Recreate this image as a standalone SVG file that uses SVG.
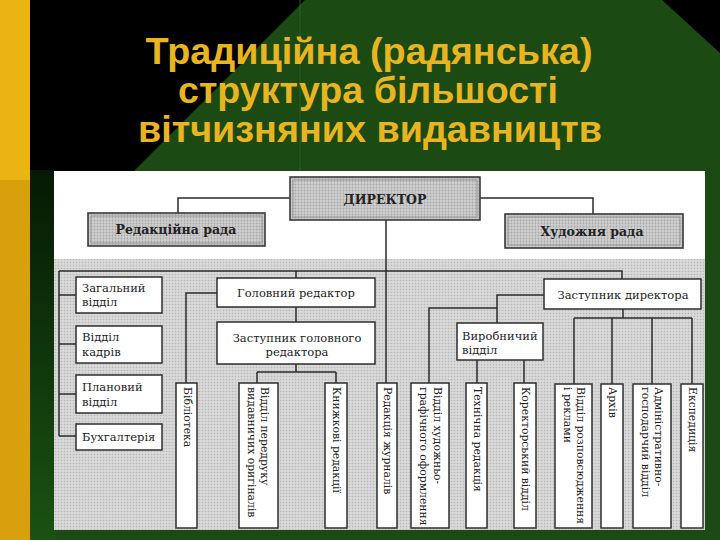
<svg xmlns="http://www.w3.org/2000/svg" width="720" height="540" viewBox="0 0 720 540">
  <defs>
    <pattern id="dots" width="3" height="3" patternUnits="userSpaceOnUse">
      <rect width="3" height="3" fill="#d8d8d8"/>
      <circle cx="1.5" cy="1.5" r="0.8" fill="#b9b9b9"/>
    </pattern>
    <pattern id="dots2" width="3" height="3" patternUnits="userSpaceOnUse">
      <rect width="3" height="3" fill="#cfcfcf"/>
      <circle cx="1.5" cy="1.5" r="0.9" fill="#a8a8a8"/>
    </pattern>
    <linearGradient id="strip" x1="0" y1="0" x2="0" y2="1">
      <stop offset="0" stop-color="#051a04"/>
      <stop offset="1" stop-color="#1a5212"/>
    </linearGradient>
  </defs>
  <style>
    .title { font-family: "Liberation Sans", Arial, sans-serif; font-weight: bold; font-size: 36px; fill: #e8b520; text-anchor: middle; }
    .conn { stroke: #2b2b2b; stroke-width: 1.5; fill: none; }
    .box { fill: #ffffff; stroke: #2e2e2e; stroke-width: 1.5; }
    .topbox { fill: url(#dots2); stroke: #3a3a3a; stroke-width: 1.6; }
    .inner { fill: none; stroke: #8a8a8a; stroke-width: 0.8; }
    .lbl { font-family: "DejaVu Serif", "Liberation Serif", serif; font-size: 11.5px; fill: #222; }
    .c { text-anchor: middle; }
    .b { font-weight: bold; font-size: 12.5px; }
    .vt { font-family: "DejaVu Serif", "Liberation Serif", serif; font-size: 10.8px; fill: #222; }
  </style>

  <!-- background -->
  <rect x="0" y="0" width="720" height="540" fill="#1b4b13"/>
  <polygon points="30,0 305,0 30,275" fill="#000000"/>
  <rect x="30" y="170" width="26" height="370" fill="url(#strip)"/>
  <polygon points="662,0 720,0 720,53" fill="#000000"/>
  <line x1="300" y1="0" x2="300" y2="170" stroke="#2d5e26" stroke-width="1"/>
  <rect x="0" y="0" width="30" height="180" fill="#eab414"/>
  <rect x="0" y="180" width="30" height="360" fill="#d8a00c"/>

  <!-- title -->
  <g id="title">
    <text class="title" x="369" y="64" textLength="447" lengthAdjust="spacingAndGlyphs">Традиційна (радянська)</text>
    <text class="title" x="368" y="103" textLength="380" lengthAdjust="spacingAndGlyphs">структура більшості</text>
    <text class="title" x="370" y="142" textLength="464" lengthAdjust="spacingAndGlyphs">вітчизняних видавництв</text>
  </g>

  <!-- chart panel -->
  <rect x="54" y="171" width="651" height="359" fill="#ffffff"/>
  <rect x="54" y="259" width="651" height="271" fill="url(#dots)"/>

  <!-- connectors -->
  <g id="connectors" class="conn">
    <path d="M290,198 H178 V213"/>
    <path d="M480,198 H593 V214"/>
    <path d="M386,220 V383"/>
    <path d="M59,271 H622 V279"/>
    <path d="M59,271 V436"/>
    <path d="M59,295 H76 M59,344 H76 M59,394 H76 M59,436 H76"/>
    <path d="M296,271 V278 M296,307 V322"/>
    <path d="M217,293 H186 V383"/>
    <path d="M296,364 V372 M257,372 H336 M257,372 V383 M336,372 V383"/>
    <path d="M544,295 H497 V323 M497,308 H429 V383"/>
    <path d="M477,360 V383 M524,360 V383"/>
    <path d="M623,309 V318 M574,318 H692 M574,318 V384 M612,318 V384 M652,318 V384 M692,318 V384"/>
  </g>

  <!-- top level -->
  <g id="director">
    <rect class="topbox" x="290" y="177" width="190" height="43"/>
    <rect class="inner" x="293" y="180" width="184" height="37"/>
    <text class="lbl b c" x="385" y="204" font-size="13">ДИРЕКТОР</text>
  </g>
  <g id="redrada">
    <rect class="topbox" x="88" y="213" width="177" height="33"/>
    <rect class="inner" x="91" y="216" width="171" height="27"/>
    <text class="lbl b c" x="176" y="234">Редакційна рада</text>
  </g>
  <g id="hudrada">
    <rect class="topbox" x="505" y="214" width="178" height="34"/>
    <rect class="inner" x="508" y="217" width="172" height="28"/>
    <text class="lbl b c" x="592" y="236">Художня рада</text>
  </g>

  <!-- left column -->
  <g id="zagalnyi">
    <rect class="box" x="76" y="277" width="86" height="36"/>
    <text class="lbl" x="82" y="292">Загальний</text>
    <text class="lbl" x="82" y="306">відділ</text>
  </g>
  <g id="kadry">
    <rect class="box" x="76" y="326" width="86" height="37"/>
    <text class="lbl" x="82" y="341">Відділ</text>
    <text class="lbl" x="82" y="356">кадрів</text>
  </g>
  <g id="planovyi">
    <rect class="box" x="76" y="375" width="86" height="38"/>
    <text class="lbl" x="82" y="391">Плановий</text>
    <text class="lbl" x="82" y="406">відділ</text>
  </g>
  <g id="buhgalteria">
    <rect class="box" x="76" y="424" width="86" height="26"/>
    <text class="lbl" x="82" y="441">Бухгалтерія</text>
  </g>

  <!-- middle -->
  <g id="golred">
    <rect class="box" x="217" y="278" width="158" height="29"/>
    <text class="lbl c" x="296" y="297">Головний редактор</text>
  </g>
  <g id="zastgolred">
    <rect class="box" x="217" y="322" width="158" height="42"/>
    <text class="lbl c" x="297" y="342">Заступник головного</text>
    <text class="lbl c" x="297" y="356">редактора</text>
  </g>
  <g id="vyrobnychyi">
    <rect class="box" x="457" y="323" width="86" height="37"/>
    <text class="lbl" x="462" y="340">Виробничий</text>
    <text class="lbl" x="462" y="354">відділ</text>
  </g>
  <g id="zastdyr">
    <rect class="box" x="544" y="279" width="157" height="30"/>
    <text class="lbl c" x="623" y="299">Заступник директора</text>
  </g>

  <!-- vertical boxes -->
  <g id="biblioteka">
    <rect class="box" x="176" y="383" width="21" height="145"/>
    <text class="vt" transform="translate(186.5,387) rotate(90)" y="3">Бібліотека</text>
  </g>
  <g id="peredruk">
    <rect class="box" x="239" y="383" width="39" height="145"/>
    <text class="vt" transform="translate(264,387) rotate(90)" y="3">Відділ передруку</text>
    <text class="vt" transform="translate(251,387) rotate(90)" y="3">видавничих оригіналів</text>
  </g>
  <g id="knyzhkovi">
    <rect class="box" x="325" y="383" width="22" height="145"/>
    <text class="vt" transform="translate(336,387) rotate(90)" y="3">Книжкові редакції</text>
  </g>
  <g id="zhurnaly">
    <rect class="box" x="377" y="383" width="20" height="145"/>
    <text class="vt" transform="translate(387,387) rotate(90)" y="3">Редакція журналів</text>
  </g>
  <g id="hudgraf">
    <rect class="box" x="411" y="383" width="38" height="145"/>
    <text class="vt" transform="translate(436.5,387) rotate(90)" y="3">Відділ художньо-</text>
    <text class="vt" transform="translate(423,387) rotate(90)" y="3">графічного оформлення</text>
  </g>
  <g id="tehred">
    <rect class="box" x="466" y="383" width="21" height="145"/>
    <text class="vt" transform="translate(476.5,387) rotate(90)" y="3">Технічна редакція</text>
  </g>
  <g id="korektor">
    <rect class="box" x="514" y="383" width="22" height="145"/>
    <text class="vt" transform="translate(525,387) rotate(90)" y="3">Коректорський відділ</text>
  </g>
  <g id="rozpovs">
    <rect class="box" x="555" y="384" width="37" height="144"/>
    <text class="vt" transform="translate(580,387) rotate(90)" y="3">Відділ розповсюдження</text>
    <text class="vt" transform="translate(567,387) rotate(90)" y="3">і реклами</text>
  </g>
  <g id="arhiv">
    <rect class="box" x="601" y="384" width="22" height="144"/>
    <text class="vt" transform="translate(612,387) rotate(90)" y="3">Архів</text>
  </g>
  <g id="admin">
    <rect class="box" x="633" y="384" width="38" height="144"/>
    <text class="vt" transform="translate(658,387) rotate(90)" y="3">Адміністративно-</text>
    <text class="vt" transform="translate(645,387) rotate(90)" y="3">господарчий відділ</text>
  </g>
  <g id="ekspedycia">
    <rect class="box" x="681" y="384" width="22" height="144"/>
    <text class="vt" transform="translate(692,387) rotate(90)" y="3">Експедиція</text>
  </g>
</svg>
